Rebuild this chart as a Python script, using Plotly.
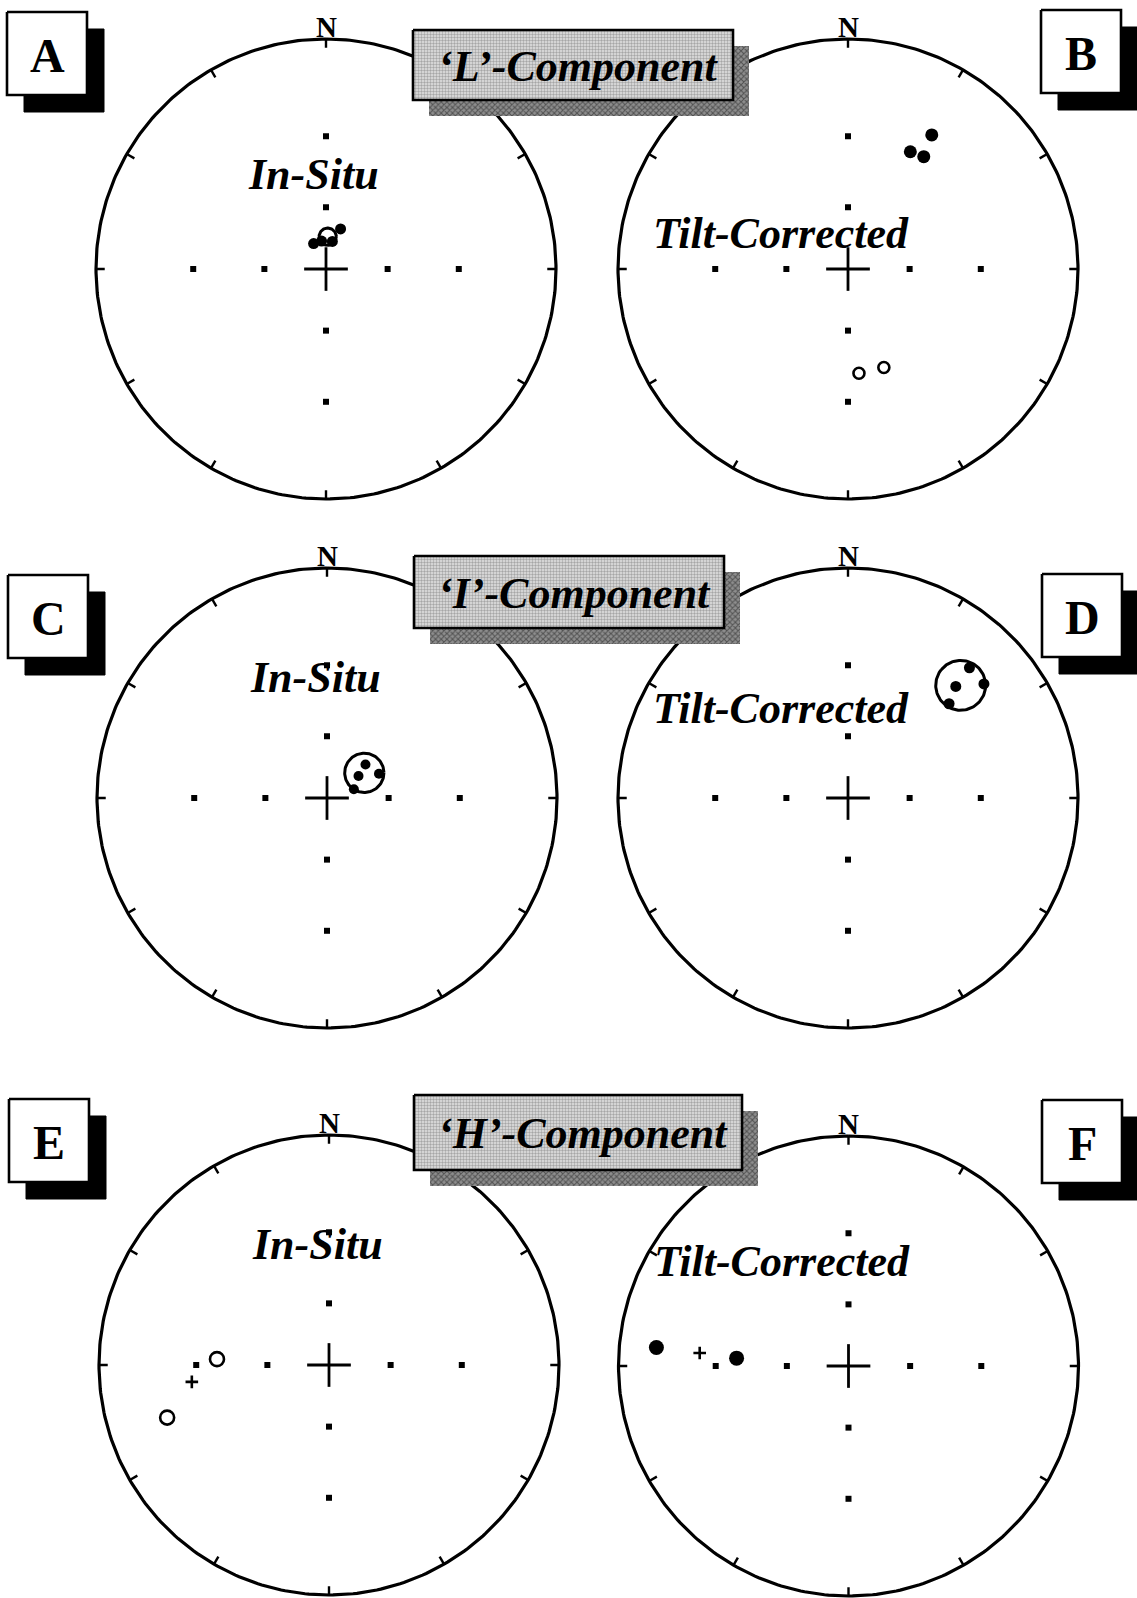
import numpy as np
import plotly.graph_objects as go

W, H = 1137, 1598
R_PX = 230.0  # radius of each primitive circle on the page, px

# ---------------------------------------------------------------
# Site-mean directions (declination, inclination in degrees).
# Positive inclination = lower hemisphere (filled), negative = upper (open).
# ---------------------------------------------------------------
# 'L' component
L_insitu_dec = [334, 351, 13, 20]
L_insitu_inc = [76, 76, 76, 69]
L_insitu_mean = [3, 74, 4.2]          # dec, inc, alpha95
L_tilt_dec = [32, 28, 34, 174, 160]
L_tilt_inc = [21, 30, 29, -41, -41]

# 'I' component
I_insitu_dec = [49, 55, 65, 72]
I_insitu_inc = [65, 71, 62, 76]
I_insitu_mean = [56, 68, 9.4]
I_tilt_dec = [43, 50, 44, 47]
I_tilt_inc = [14.5, 14.7, 22, 28]
I_tilt_mean = [45, 21, 8.4]

# 'H' component
H_insitu_dec = [273, 252]
H_insitu_inc = [-38, -17]
H_insitu_mean = [263, -28]            # dec, inc (no cone drawn)
H_tilt_dec = [275.5, 274]
H_tilt_inc = [10, 38]
H_tilt_mean = [275, 24]

panel_letters = ["A", "B", "C", "D", "E", "F"]
frame_names = ["In-Situ", "Tilt-Corrected"] * 3
component_names = ["\u2018L\u2019-Component", "\u2018I\u2019-Component", "\u2018H\u2019-Component"]

# graticule: azimuth ticks on the primitive and inclination marks
tick_az = list(range(0, 360, 30))
mark_inc = [60, 30]
mark_az = [0, 90, 180, 270]


def wulff(dec, inc):
    """Equal-angle (stereographic) projection of directions."""
    d = np.radians(np.asarray(dec, float))
    r = np.tan(np.radians(90.0 - np.abs(np.asarray(inc, float))) / 2.0)
    return r * np.sin(d), r * np.cos(d)


def cone(dec, inc, a95, n=120):
    """Small circle of radius a95 about a mean direction."""
    d, i = np.radians(dec), np.radians(inc)
    m = np.array([np.cos(i) * np.cos(d), np.cos(i) * np.sin(d), np.sin(i)])
    ref = np.array([0.0, 0.0, 1.0]) if abs(m[2]) < 0.9 else np.array([1.0, 0.0, 0.0])
    u = np.cross(m, ref)
    u /= np.linalg.norm(u)
    v = np.cross(m, u)
    t = np.linspace(0, 2 * np.pi, n)
    a = np.radians(a95)
    p = np.cos(a) * m[:, None] + np.sin(a) * (np.cos(t) * u[:, None] + np.sin(t) * v[:, None])
    return wulff(np.degrees(np.arctan2(p[1], p[0])), np.degrees(np.arcsin(np.clip(p[2], -1, 1))))


panels = [
    dict(dec=L_insitu_dec, inc=L_insitu_inc, mean=L_insitu_mean, size=11),
    dict(dec=L_tilt_dec, inc=L_tilt_inc, mean=None, size=13),
    dict(dec=I_insitu_dec, inc=I_insitu_inc, mean=I_insitu_mean, size=10),
    dict(dec=I_tilt_dec, inc=I_tilt_inc, mean=I_tilt_mean, size=11),
    dict(dec=H_insitu_dec, inc=H_insitu_inc, mean=H_insitu_mean, size=16),
    dict(dec=H_tilt_dec, inc=H_tilt_inc, mean=H_tilt_mean, size=15),
]

# page placement of each net (centre, px) and label positions (net units)
centres = [(326, 269), (848, 269), (327, 798), (848, 798), (329, 1365), (848.5, 1366)]
frame_xy = [(-0.055, 0.412), (-0.29, 0.155), (-0.052, 0.524),
            (-0.29, 0.39), (-0.052, 0.524), (-0.29, 0.454)]

SERIF = "Liberation Serif, Times New Roman, serif"
fig = go.Figure()
layout = dict(width=W, height=H, margin=dict(l=0, r=0, t=0, b=0),
              paper_bgcolor="white", plot_bgcolor="rgba(0,0,0,0)",
              showlegend=False, annotations=[])

HALF = 1.12
for k, (p, (cx, cy)) in enumerate(zip(panels, centres), start=1):
    xa, ya = f"x{k}", f"y{k}"
    half_px = HALF * R_PX
    top_px = max(0.0, cy - half_px)
    bot_px = min(float(H), cy + half_px)
    layout[f"xaxis{k}"] = dict(domain=[(cx - half_px) / W, (cx + half_px) / W],
                               range=[-HALF, HALF], visible=False, fixedrange=True)
    layout[f"yaxis{k}"] = dict(domain=[1 - bot_px / H, 1 - top_px / H],
                               range=[-(bot_px - cy) / R_PX, (cy - top_px) / R_PX],
                               visible=False, fixedrange=True)

    # primitive circle
    t = np.linspace(0, 2 * np.pi, 361)
    fig.add_trace(go.Scatter(x=np.sin(t), y=np.cos(t), mode="lines",
                             line=dict(color="black", width=3.2),
                             hoverinfo="skip", xaxis=xa, yaxis=ya))
    # azimuth ticks (inward)
    tx, ty = [], []
    for az in tick_az:
        s, c = np.sin(np.radians(az)), np.cos(np.radians(az))
        tx += [s, 0.962 * s, None]
        ty += [c, 0.962 * c, None]
    fig.add_trace(go.Scatter(x=tx, y=ty, mode="lines", line=dict(color="black", width=2.4),
                             hoverinfo="skip", xaxis=xa, yaxis=ya))
    # centre cross
    fig.add_trace(go.Scatter(x=[-0.095, 0.095, None, 0, 0], y=[0, 0, None, -0.095, 0.095],
                             mode="lines", line=dict(color="black", width=2.8),
                             hoverinfo="skip", xaxis=xa, yaxis=ya))
    # inclination marks at 60 and 30 degrees
    md = [a for a in mark_az for _ in mark_inc]
    mi = [i for _ in mark_az for i in mark_inc]
    mx, my = wulff(md, mi)
    fig.add_trace(go.Scatter(x=mx, y=my, mode="markers",
                             marker=dict(color="black", size=6, symbol="square"),
                             hoverinfo="skip", xaxis=xa, yaxis=ya))

    # confidence cone / mean
    if p["mean"] is not None:
        if len(p["mean"]) == 3:
            cxs, cys = cone(*p["mean"])
            fig.add_trace(go.Scatter(x=cxs, y=cys, mode="lines",
                                     line=dict(color="black", width=3),
                                     hoverinfo="skip", xaxis=xa, yaxis=ya))
        else:
            mxx, myy = wulff([p["mean"][0]], [p["mean"][1]])
            fig.add_trace(go.Scatter(x=mxx, y=myy, mode="markers",
                                     marker=dict(symbol="cross-thin", size=9,
                                                 line=dict(color="black", width=2.6)),
                                     hoverinfo="skip", xaxis=xa, yaxis=ya))

    # site directions
    dx, dy = wulff(p["dec"], p["inc"])
    lower = np.asarray(p["inc"]) >= 0
    if lower.any():
        fig.add_trace(go.Scatter(x=dx[lower], y=dy[lower], mode="markers",
                                 marker=dict(color="black", size=p["size"],
                                             line=dict(color="black", width=0)),
                                 xaxis=xa, yaxis=ya))
    if (~lower).any():
        fig.add_trace(go.Scatter(x=dx[~lower], y=dy[~lower], mode="markers",
                                 marker=dict(color="white", size=p["size"] - 2,
                                             line=dict(color="black", width=2.6)),
                                 xaxis=xa, yaxis=ya))

    # labels: north and reference frame
    layout["annotations"].append(dict(x=0, y=1.052, xref=xa, yref=ya, text="<b>N</b>",
                                      showarrow=False, xanchor="center", yanchor="middle",
                                      font=dict(family=SERIF, size=29, color="black")))
    fx, fy = frame_xy[k - 1]
    layout["annotations"].append(dict(x=fx, y=fy, xref=xa, yref=ya,
                                      text=f"<b><i>{frame_names[k - 1]}</i></b>",
                                      showarrow=False, xanchor="center", yanchor="middle",
                                      font=dict(family=SERIF, size=44, color="black")))

# ---------------------------------------------------------------
# Page overlay (px units) for the panel letters and component banners
# ---------------------------------------------------------------
OV = 7
layout[f"xaxis{OV}"] = dict(domain=[0, 1], range=[0, W], visible=False, fixedrange=True)
layout[f"yaxis{OV}"] = dict(domain=[0, 1], range=[H, 0], visible=False, fixedrange=True)


def rect(x0, y0, x1, y1, **kw):
    fig.add_trace(go.Scatter(x=[x0, x1, x1, x0, x0], y=[y0, y0, y1, y1, y0],
                             mode="lines", fill="toself", hoverinfo="skip",
                             xaxis=f"x{OV}", yaxis=f"y{OV}", **kw))


letter_boxes = [(7, 12), (1041, 10), (8, 575), (1042, 574), (9, 1099), (1042, 1100)]
BW, BH, SH = 80, 83, 17
for letter, (x0, y0) in zip(panel_letters, letter_boxes):
    rect(x0 + SH, y0 + SH, x0 + SH + BW, y0 + SH + BH,
         fillcolor="black", line=dict(color="black", width=1))
    rect(x0, y0, x0 + BW, y0 + BH, fillcolor="white", line=dict(color="black", width=2.6))
    layout["annotations"].append(dict(x=x0 + BW / 2, y=y0 + BH / 2 + 2, xref=f"x{OV}", yref=f"y{OV}",
                                      text=f"<b>{letter}</b>", showarrow=False,
                                      xanchor="center", yanchor="middle",
                                      font=dict(family=SERIF, size=48, color="black")))

banners = [(413, 30, 733, 100), (414, 556, 724, 628), (414, 1095, 742, 1170)]
for name, (x0, y0, x1, y1) in zip(component_names, banners):
    rect(x0 + 16, y0 + 16, x1 + 16, y1 + 16, fillcolor="#6e6e6e",
         line=dict(color="rgba(0,0,0,0)", width=0),
         fillpattern=dict(shape="x", fgcolor="#141414", bgcolor="#8e8e8e",
                          size=4, solidity=0.45))
    rect(x0, y0, x1, y1, fillcolor="#d8d8d8", line=dict(color="black", width=2.6),
         fillpattern=dict(shape=".", fgcolor="#6a6a6a", bgcolor="#e2e2e2",
                          size=3, solidity=0.5))
    layout["annotations"].append(dict(x=(x0 + x1) / 2 + 5, y=(y0 + y1) / 2 + 1,
                                      xref=f"x{OV}", yref=f"y{OV}",
                                      text=f"<b><i>{name}</i></b>", showarrow=False,
                                      xanchor="center", yanchor="middle",
                                      font=dict(family=SERIF, size=44, color="black")))

fig.update_layout(**layout)
fig.write_html("out.html")
